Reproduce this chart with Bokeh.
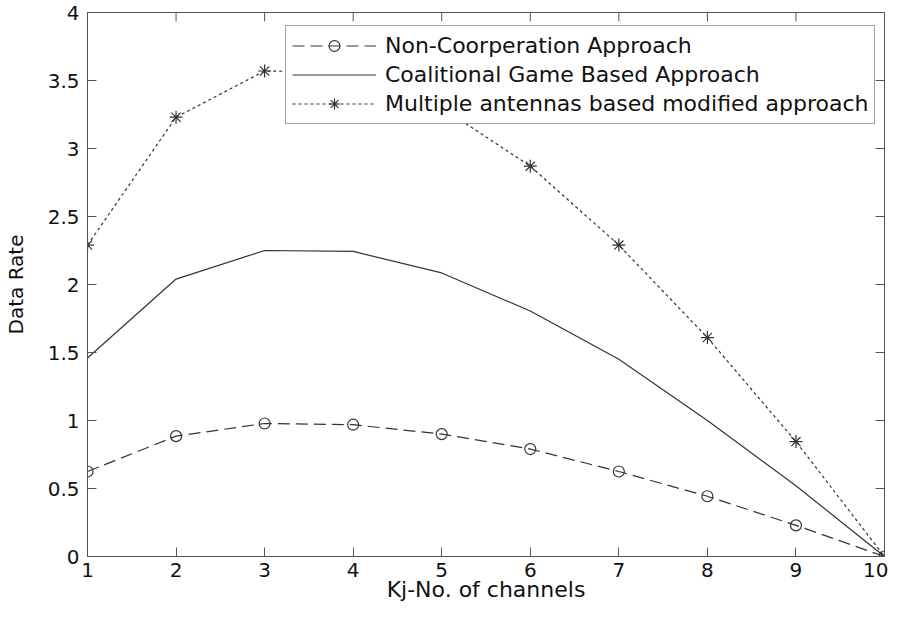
import math
from bokeh.plotting import figure
from bokeh.models import Range1d, FixedTicker, Legend, LegendItem
from bokeh.embed import file_html
from bokeh.resources import INLINE

# ---- data ----
channels = [1, 2, 3, 4, 5, 6, 7, 8, 9, 10]
non_coop = [0.625, 0.885, 0.978, 0.969, 0.90, 0.79, 0.625, 0.443, 0.229, 0.0]
coalitional = [1.46, 2.04, 2.25, 2.243, 2.085, 1.805, 1.45, 1.00, 0.52, 0.0]
multiple = [2.29, 3.23, 3.57, 3.56, 3.30, 2.87, 2.29, 1.61, 0.845, 0.0]

series_labels = ["Non-Coorperation Approach",
                 "Coalitional Game Based Approach",
                 "Multiple antennas based modified approach"]
x_ticks = channels
y_ticks = [0.0, 0.5, 1.0, 1.5, 2.0, 2.5, 3.0, 3.5, 4.0]
y_tick_labels = ["0", "0.5", "1", "1.5", "2", "2.5", "3", "3.5", "4"]
x_title = "Kj-No. of channels"
y_title = "Data Rate"

FONT = "DejaVu Sans"
AX = "#555555"
LC = "#333333"
TXT = "#111111"

x_lo, x_hi = x_ticks[0], x_ticks[-1]
y_lo, y_hi = y_ticks[0], y_ticks[-1]

p = figure(width=888, height=608, output_backend="svg", toolbar_location=None,
           x_range=Range1d(x_lo, x_hi), y_range=Range1d(y_lo, y_hi),
           min_border_left=82, min_border_right=4, min_border_top=12,
           min_border_bottom=52)
p.xgrid.visible = False
p.ygrid.visible = False
p.outline_line_color = AX
p.background_fill_color = "white"
p.border_fill_color = "white"

xa = p.xaxis[0]
ya = p.yaxis[0]
for ax, ticks in ((xa, x_ticks), (ya, y_ticks)):
    ax.ticker = FixedTicker(ticks=ticks)
    ax.major_tick_in = 9
    ax.major_tick_out = 0
    ax.minor_tick_in = 0
    ax.minor_tick_out = 0
    ax.axis_line_color = AX
    ax.major_tick_line_color = AX
    ax.major_label_text_font = FONT
    ax.major_label_text_color = TXT
    ax.major_label_text_font_size = "20px"
    ax.axis_label_text_font = FONT
    ax.axis_label_text_font_style = "normal"
    ax.axis_label_text_color = TXT

xa.major_label_standoff = 6
ya.major_label_standoff = 8
ya.major_label_overrides = {t: l for t, l in zip(y_ticks, y_tick_labels)}

xa.axis_label = x_title
xa.axis_label_text_font_size = "22px"
xa.axis_label_standoff = -3

ya.axis_label = y_title
ya.axis_label_text_font_size = "20px"
ya.axis_label_standoff = 17

# inward ticks on the top and right sides of the box (MATLAB "box on")
p.ray(x=x_ticks, y=[y_hi] * len(x_ticks), length=9, length_units="screen",
      angle=-math.pi / 2, line_color=AX, line_width=1)
p.ray(x=[x_hi] * len(y_ticks), y=y_ticks, length=9, length_units="screen",
      angle=math.pi, line_color=AX, line_width=1)

r1 = p.line(channels, non_coop, line_color=LC, line_width=1.2, line_dash="12 6")
m1 = p.scatter(channels, non_coop, marker="circle", size=11, fill_color=None,
               line_color=LC, line_width=1.2)
r2 = p.line(channels, coalitional, line_color=LC, line_width=1.2)
r3 = p.line(channels, multiple, line_color=LC, line_width=1.2, line_dash="3 3")
m3 = p.scatter(channels, multiple, marker="asterisk", size=13,
               line_color=LC, line_width=1.2)

legend = Legend(items=[LegendItem(label=series_labels[0], renderers=[r1, m1]),
                       LegendItem(label=series_labels[1], renderers=[r2]),
                       LegendItem(label=series_labels[2], renderers=[r3, m3])],
                location=(198, 432))
legend.label_text_font = FONT
legend.label_text_font_size = "22px"
legend.label_text_color = TXT
legend.glyph_width = 84
legend.glyph_height = 27
legend.label_height = 27
legend.spacing = 2
legend.padding = 6
legend.margin = 0
legend.label_standoff = 9
legend.border_line_color = "#444444"
legend.border_line_width = 1
legend.background_fill_color = "white"
legend.background_fill_alpha = 1.0
p.add_layout(legend)

open("out.html", "w").write(file_html(p, INLINE))
